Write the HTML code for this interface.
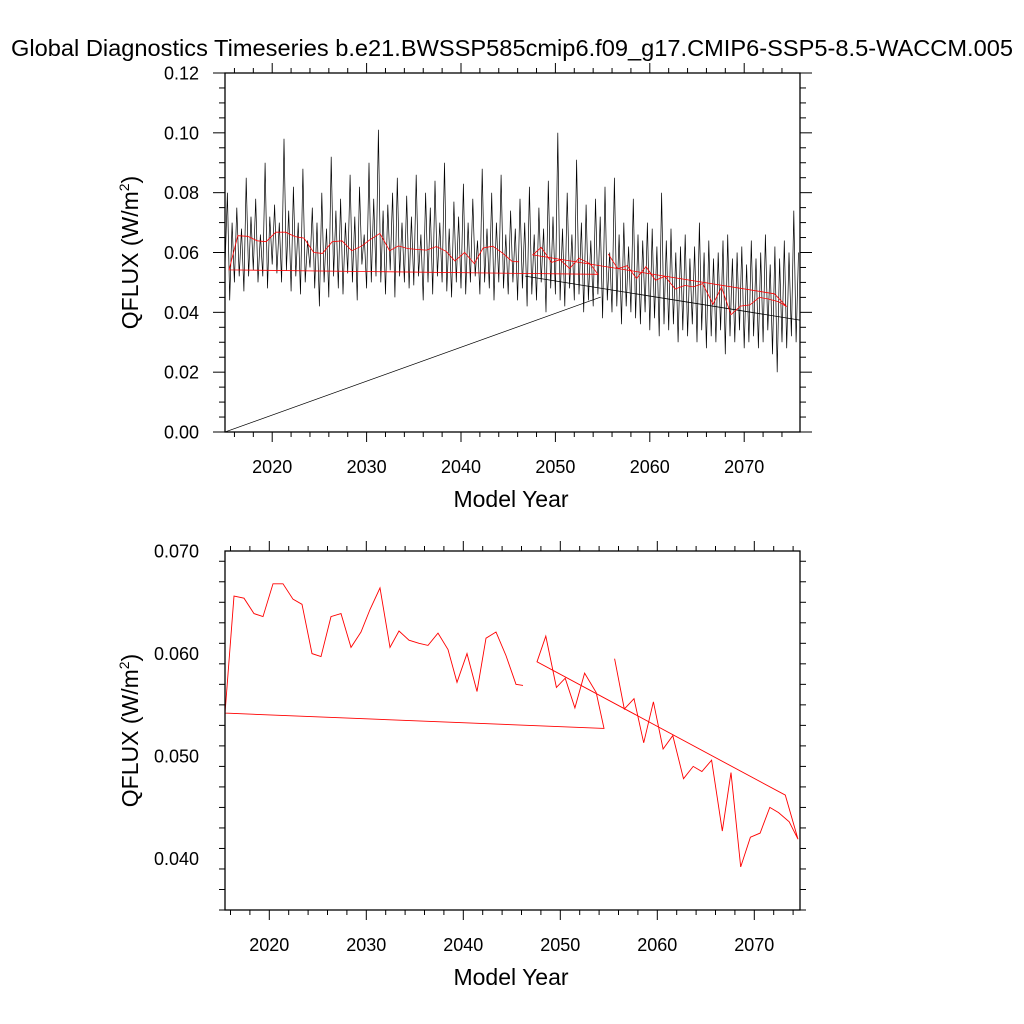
<!DOCTYPE html>
<html><head><meta charset="utf-8"><style>
html,body{margin:0;padding:0;background:#fff;}
svg{display:block;font-family:"Liberation Sans",sans-serif;}
</style></head><body>
<svg id="chart" width="1024" height="1024" viewBox="0 0 1024 1024">
<rect width="1024" height="1024" fill="#fff"/>
<text x="512" y="56" font-size="23.5" text-anchor="middle" textLength="1002" lengthAdjust="spacingAndGlyphs">Global Diagnostics Timeseries b.e21.BWSSP585cmip6.f09_g17.CMIP6-SSP5-8.5-WACCM.005</text>
</svg>
<script>
// ---- data ----
const monthlyStart = 2015.0;
const monthlyStep = 0.25;
const monthlyValues = [
.055,.080,.044,.070, .050,.075,.052,.068, .047,.085,.052,.072, .054,.078,.050,.066,
.052,.090,.048,.072, .056,.076,.053,.070, .050,.098,.054,.074, .047,.082,.052,.070,
.046,.088,.050,.064, .055,.075,.048,.070, .042,.080,.050,.068, .045,.092,.052,.074,
.048,.078,.046,.070, .053,.086,.050,.072, .044,.082,.056,.066, .048,.090,.050,.078,
.052,.101,.050,.074, .046,.076,.054,.080, .045,.085,.052,.070, .050,.079,.048,.072,
.049,.086,.052,.066, .044,.080,.050,.075, .046,.084,.052,.070, .050,.090,.047,.068,
.045,.077,.050,.072, .048,.083,.046,.070, .050,.078,.052,.064, .046,.088,.050,.068,
.048,.080,.044,.070, .050,.086,.048,.066, .046,.074,.050,.068, .044,.078,.048,.070,
.042,.082,.046,.066, .044,.075,.050,.068, .040,.084,.048,.072, .046,.100,.044,.068,
.042,.080,.048,.066, .044,.091,.046,.070, .040,.076,.044,.064, .042,.078,.046,.072,
.038,.082,.044,.060, .040,.085,.042,.066, .036,.070,.042,.062, .040,.078,.038,.066,
.036,.064,.040,.070, .034,.068,.038,.062, .032,.080,.036,.064, .034,.068,.036,.060,
.030,.062,.034,.066, .032,.058,.036,.062, .030,.070,.034,.060, .028,.064,.032,.058,
.030,.060,.034,.064, .026,.066,.032,.058, .030,.060,.034,.062, .028,.056,.030,.064,
.032,.058,.028,.060, .030,.066,.034,.056, .026,.062,.020,.058, .030,.064,.028,.060,
.032,.074,.030,.060
];
const blackExtraYears = [2015.0, 2054.8];
const blackExtraValues = [0.0, 0.0451];
const blackTrendYears = [2046.8, 2075.9];
const blackTrendValues = [0.0521, 0.0374];
const annualYears = [2046.15,2045.43,2044.40,2043.37,2042.34,2041.41,2040.38,2039.35,2038.42,2037.39,2036.36,2035.43,2034.40,2033.37,2032.44,2031.41,2030.38,2029.45,2028.42,2027.39,2026.36,2025.33,2024.40,2023.37,2022.44,2021.41,2020.38,2019.35,2018.42,2017.39,2016.36,2015.43,
 2054.5,2053.7,2052.5,2051.5,2050.5,2049.6,2048.5,2047.6,2073.2,2074.5,2073.6,2072.5,2071.6,2070.6,2069.6,2068.6,2067.6,2066.7,2065.6,2064.6,2063.7,2062.7,2061.6,2060.6,2059.6,2058.6,2057.6,2056.6,2055.6];
const annualValues = [0.0569,0.0570,0.0598,0.0621,0.0615,0.0563,0.0600,0.0572,0.0604,0.0620,0.0608,0.0610,0.0613,0.0622,0.0606,0.0664,0.0643,0.0621,0.0606,0.0639,0.0636,0.0597,0.0600,0.0648,0.0653,0.0668,0.0668,0.0636,0.0639,0.0654,0.0656,0.0542,
 0.0527,0.0562,0.0581,0.0547,0.0576,0.0567,0.0617,0.0592,0.0462,0.0419,0.0436,0.0445,0.0450,0.0425,0.0421,0.0392,0.0484,0.0427,0.0496,0.0485,0.0490,0.0478,0.0520,0.0507,0.0553,0.0513,0.0556,0.0546,0.0595];
const xTickYears = [2020,2030,2040,2050,2060,2070];
const topYTicks = [0.00,0.02,0.04,0.06,0.08,0.10,0.12];
const topYLabels = ["0.00","0.02","0.04","0.06","0.08","0.10","0.12"];
const botYTicks = [0.040,0.050,0.060,0.070];
const botYLabels = ["0.040","0.050","0.060","0.070"];

const NS = "http://www.w3.org/2000/svg";
const svg = document.getElementById('chart');
function mk(tag, attrs, parent){const e=document.createElementNS(NS,tag);for(const k in attrs)e.setAttribute(k,attrs[k]);(parent||svg).appendChild(e);return e;}

function panel(cfg){
  const g = mk('g',{});
  
  
  const L=225,R=800,T=cfg.top,B=cfg.bottom;
  const xs = y => L + (y - cfg.x0)/(cfg.x1 - cfg.x0)*(R-L);
  const ys = v => B - (v - cfg.y0)/(cfg.y1 - cfg.y0)*(B-T);
  const clip = mk('clipPath',{id:cfg.name+'-clip'},g);
  mk('rect',{x:L,y:T,width:R-L,height:B-T},clip);
  const plot = mk('g',{'clip-path':'url(#'+cfg.name+'-clip)'},g);
  cfg.draw(plot, xs, ys);
  const fr = mk('rect',{x:L,y:T,width:R-L,height:B-T,fill:'none',stroke:'#000','stroke-width':1.3},g);
  
  
  for(let yr=2014; yr<=2076; yr+=2){
    const x=xs(yr); if(x<L-0.5||x>R+0.5) continue;
    const len = (yr%10===0)?10:5;
    mk('line',{x1:x,y1:B,x2:x,y2:B+len,stroke:'#000','stroke-width':1},g);
    mk('line',{x1:x,y1:T,x2:x,y2:T-len,stroke:'#000','stroke-width':1},g);
  }
  xTickYears.forEach(yr=>{
    const t = mk('text',{x:xs(yr),y:B+41,'font-size':18,'text-anchor':'middle'},g);
    t.textContent = yr;
    
    
  });
  for(let v=cfg.y0; v<=cfg.y1+1e-9; v+=cfg.minor){
    const vv=Math.round(v*1e6)/1e6;
    const y=ys(vv);
    const isMaj = Math.abs(Math.round(vv/cfg.major)*cfg.major - vv)<1e-7;
    const len = isMaj?12:6;
    mk('line',{x1:L,y1:y,x2:L-len,y2:y,stroke:'#000','stroke-width':1},g);
    mk('line',{x1:R,y1:y,x2:R+len,y2:y,stroke:'#000','stroke-width':1},g);
  }
  cfg.yTicks.forEach((v,i)=>{
    const t = mk('text',{x:L-26,y:ys(v)+6.5,'font-size':18,'text-anchor':'end'},g);
    t.textContent = cfg.yLabels[i];
    
    
  });
  const xt = mk('text',{x:511,y:B+75,'font-size':23,'text-anchor':'middle'},g);
  xt.textContent='Model Year';
  
  
  const cy=(T+B)/2;
  const yt = mk('text',{x:138,y:cy,'font-size':23,'text-anchor':'middle',transform:'rotate(-90 138 '+cy+')'},g);
  yt.innerHTML='QFLUX (W/m<tspan dy="-9" font-size="14">2</tspan><tspan dy="9">)</tspan>';
  
  
}
function polyPts(years, vals, xs, ys){return years.map((y,i)=>xs(y).toFixed(1)+','+ys(vals[i]).toFixed(1)).join(' ');}

panel({name:'top-panel', top:73, bottom:432, x0:2015.0, x1:2015.0+(800-225)/9.44, y0:0, y1:0.12, major:0.02, minor:0.005,
  yTicks:topYTicks, yLabels:topYLabels,
  draw:(p,xs,ys)=>{
    const yrs = monthlyValues.map((v,i)=>monthlyStart+i*monthlyStep);
    const bl = mk('polyline',{points:polyPts(yrs,monthlyValues,xs,ys),fill:'none',stroke:'#000','stroke-width':0.7},p);
    
    
    const be = mk('polyline',{points:polyPts(blackExtraYears,blackExtraValues,xs,ys),fill:'none',stroke:'#000','stroke-width':0.7},p);
    
    
    const bt = mk('polyline',{points:polyPts(blackTrendYears,blackTrendValues,xs,ys),fill:'none',stroke:'#000','stroke-width':0.8},p);
    
    
    const rl = mk('polyline',{points:polyPts(annualYears,annualValues,xs,ys),fill:'none',stroke:'#f00','stroke-width':0.8},p);
    
    
  }});
panel({name:'bottom-panel', top:551, bottom:910, x0:2020-(269.3-225)/9.7, x1:2020+(800-269.3)/9.7, y0:0.035, y1:0.070, major:0.01, minor:0.002,
  yTicks:botYTicks, yLabels:botYLabels,
  draw:(p,xs,ys)=>{
    const rl = mk('polyline',{points:polyPts(annualYears,annualValues,xs,ys),fill:'none',stroke:'#f00','stroke-width':0.9},p);
    
    
  }});
</script>
</body></html>
